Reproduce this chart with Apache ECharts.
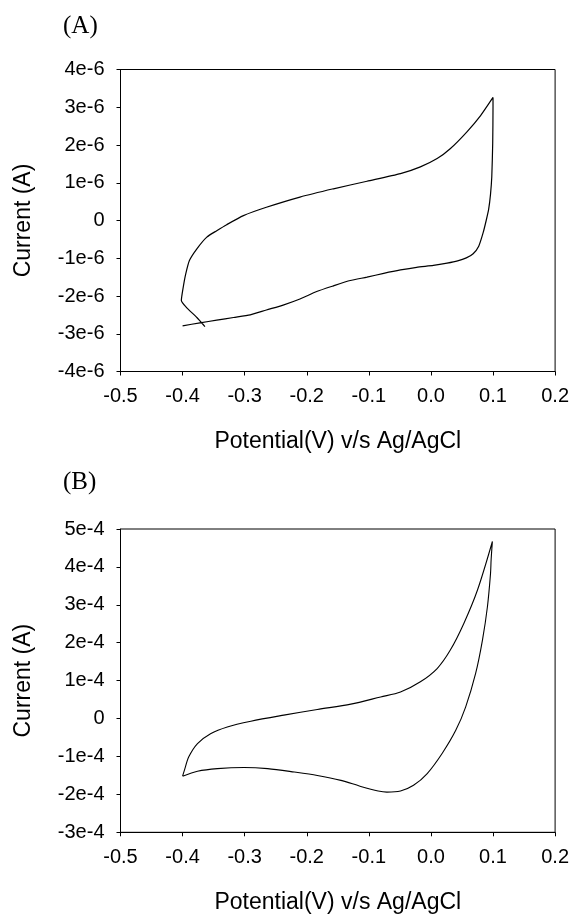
<!DOCTYPE html>
<html>
<head>
<meta charset="utf-8">
<script src="https://cdn.jsdelivr.net/npm/echarts@6/dist/echarts.min.js"></script>
<style>
html,body{margin:0;padding:0;background:#fff;}
#chart{width:572px;height:918px;}
</style>
</head>
<body>
<div id="chart"></div>
<script>
// Panel (A): potential (V) and current (units of 1e-6 A)
const potentialA = [-0.364,-0.377,-0.394,-0.402,-0.399,-0.395,-0.389,-0.377,-0.361,-0.345,-0.329,-0.302,-0.265,-0.211,-0.157,-0.103,-0.049,-0.017,0.010,0.031,0.058,0.080,0.100,0.100,0.0995,0.098,0.096,0.093,0.089,0.084,0.077,0.068,0.057,0.043,0.026,0.004,-0.023,-0.049,-0.076,-0.103,-0.130,-0.157,-0.184,-0.211,-0.238,-0.265,-0.291,-0.318,-0.345,-0.372,-0.400];
const currentA_e6 = [-2.81,-2.57,-2.30,-2.12,-1.77,-1.42,-1.06,-0.75,-0.44,-0.27,-0.11,0.13,0.35,0.62,0.84,1.04,1.24,1.42,1.64,1.90,2.35,2.78,3.26,3.01,2.04,1.15,0.70,0.30,0.0,-0.33,-0.68,-0.88,-0.99,-1.07,-1.13,-1.19,-1.24,-1.31,-1.40,-1.50,-1.59,-1.73,-1.88,-2.08,-2.24,-2.37,-2.50,-2.57,-2.64,-2.71,-2.79];

// Panel (B): potential (V) and current (units of 1e-4 A)
const potentialB = [-0.400,-0.397,-0.390,-0.376,-0.355,-0.328,-0.290,-0.237,-0.183,-0.129,-0.081,-0.049,-0.017,0.010,0.031,0.053,0.075,0.099,0.097,0.096,0.091,0.083,0.072,0.056,0.040,0.018,-0.006,-0.028,-0.049,-0.071,-0.085,-0.113,-0.145,-0.183,-0.220,-0.263,-0.301,-0.344,-0.376,-0.400];
const currentB_e4 = [-1.52,-1.36,-1.01,-0.66,-0.40,-0.22,-0.07,0.09,0.24,0.38,0.57,0.70,0.97,1.32,1.80,2.51,3.39,4.67,4.20,3.83,2.95,2.07,1.19,0.31,-0.31,-0.92,-1.45,-1.76,-1.91,-1.94,-1.91,-1.79,-1.63,-1.50,-1.41,-1.32,-1.29,-1.32,-1.39,-1.52];

// Axis settings
const xRange = {min: -0.5, max: 0.2, interval: 0.1};
const yRangeA = {min: -4e-6, max: 4e-6, interval: 1e-6, exp: -6};
const yRangeB = {min: -3e-4, max: 5e-4, interval: 1e-4, exp: -4};
const panelLabels = ['(A)', '(B)'];
const xTitle = 'Potential(V) v/s Ag/AgCl';
const yTitle = 'Current (A)';

function sci(v, exp){
  const m = Math.round(v / Math.pow(10, exp));
  return m === 0 ? '0' : m + 'e' + exp;
}
function pairs(xs, ys, exp){
  return xs.map((x, i) => [x, ys[i] * Math.pow(10, exp)]);
}

const FONT = 'Liberation Sans, Arial, sans-serif';
const axisLine = {show: true, onZero: false, lineStyle: {color: '#000', width: 1}};
const axisTick = {show: true, inside: false, length: 4, lineStyle: {color: '#000', width: 1}};

function xAxisCfg(gridIndex){
  return {
    type: 'value', gridIndex,
    min: xRange.min, max: xRange.max, interval: xRange.interval,
    axisLine, axisTick,
    splitLine: {show: false},
    axisLabel: {color: '#000', fontFamily: FONT, fontSize: 20, margin: 15,
      formatter: v => (Math.abs(v) < 1e-9 ? 0 : v).toFixed(1)},
    name: xTitle, nameLocation: 'middle', nameGap: 59,
    nameTextStyle: {color: '#000', fontFamily: FONT, fontSize: 23}
  };
}
function yAxisCfg(gridIndex, r){
  return {
    type: 'value', gridIndex,
    min: r.min, max: r.max, interval: r.interval,
    axisLine, axisTick,
    splitLine: {show: false},
    axisLabel: {color: '#000', fontFamily: FONT, fontSize: 20, margin: 16,
      formatter: v => sci(v, r.exp)},
    name: yTitle, nameLocation: 'middle', nameGap: 85, nameRotate: 90,
    nameTextStyle: {color: '#000', fontFamily: FONT, fontSize: 23}
  };
}

const chart = echarts.init(document.getElementById('chart'), null, {renderer: 'canvas'});
chart.setOption({
  backgroundColor: '#fff',
  animation: false,
  title: [
    {text: panelLabels[0], left: 58, top: 9, textStyle: {fontFamily: 'Liberation Serif, Times New Roman, serif', fontSize: 25, fontWeight: 'normal', color: '#000'}},
    {text: panelLabels[1], left: 58, top: 465, textStyle: {fontFamily: 'Liberation Serif, Times New Roman, serif', fontSize: 25, fontWeight: 'normal', color: '#000'}}
  ],
  grid: [
    {left: 120.5, top: 69.5, right: 16.5, height: 302, show: true, borderColor: '#000', borderWidth: 1, backgroundColor: 'transparent'},
    {left: 120.5, top: 529, right: 16.5, height: 303.3, show: true, borderColor: '#000', borderWidth: 1, backgroundColor: 'transparent'}
  ],
  xAxis: [xAxisCfg(0), xAxisCfg(1)],
  yAxis: [yAxisCfg(0, yRangeA), yAxisCfg(1, yRangeB)],
  series: [
    {type: 'line', xAxisIndex: 0, yAxisIndex: 0, data: pairs(potentialA, currentA_e6, -6),
      showSymbol: false, symbol: 'none', smooth: 0.2, lineStyle: {color: '#000', width: 1.2}},
    {type: 'line', xAxisIndex: 1, yAxisIndex: 1, data: pairs(potentialB, currentB_e4, -4),
      showSymbol: false, symbol: 'none', smooth: 0.3, lineStyle: {color: '#000', width: 1.1}}
  ]
});
</script>
</body>
</html>
